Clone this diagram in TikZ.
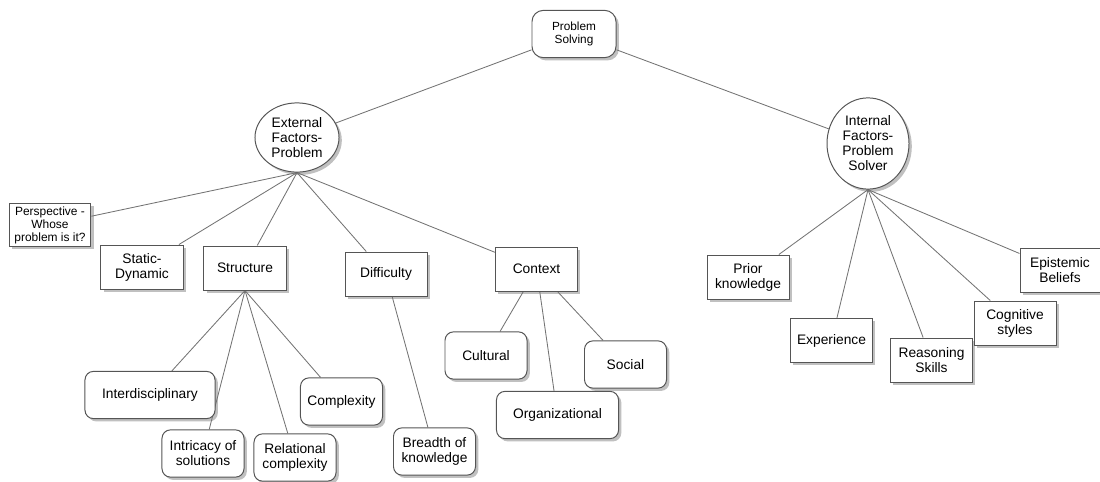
\documentclass[tikz,border=0pt]{standalone}
\usepackage{fontspec}
\setmainfont{Liberation Sans}
\usepackage{tikz}
\usetikzlibrary{shapes.geometric, shadows, backgrounds}
\definecolor{boxgray}{RGB}{85, 85, 85}
\definecolor{linegray}{RGB}{115, 115, 115}

\begin{document}
\begin{tikzpicture}[
  x=0.025cm, y=-0.025cm,
  box/.style={draw=boxgray, fill=white, line width=0.7pt, minimum width=2.05cm, minimum height=1.1cm, align=center, inner sep=1pt, font=\fontsize{9.8}{10.7}\selectfont, drop shadow={shadow xshift=2pt, shadow yshift=-2pt, opacity=0.45, fill=black!55}},
  leaf/.style={box, rounded corners=6pt, minimum height=1.18cm},
  factor/.style={box, ellipse, inner sep=0pt, minimum width=2.1cm},
  link/.style={draw=linegray, line width=0.6pt},
]
  \useasboundingbox (0,0) rectangle (1100,481);

  % Root
  \node[leaf, minimum width=2.1cm, rounded corners=8pt, font=\fontsize{8.4}{9.6}\selectfont] (ps) at (574,34) {Problem\\Solving};

  % Factors
  \node[factor, minimum height=1.73cm] (ext) at (297,137.5) {External\\Factors-\\Problem};
  \node[factor, minimum width=2.05cm, minimum height=2.28cm] (int) at (868,143.5) {Internal\\Factors-\\Problem\\Solver};

  % External factors
  \node[box, minimum width=2.04cm, minimum height=1.08cm, font=\fontsize{8.5}{9.2}\selectfont] (persp) at (50,225) {Perspective -\\Whose\\problem is it?};
  \node[box] (stat) at (142,267) {Static-\\Dynamic};
  \node[box] (struc) at (245,268) {Structure};
  \node[box] (diff) at (386,274) {Difficulty};
  \node[box] (ctx) at (536.5,269) {Context};

  % Structure
  \node[leaf, minimum width=3.25cm] (interd) at (150,395) {Interdisciplinary};
  \node[leaf] (intric) at (203,453.5) {Intricacy of\\solutions};
  \node[leaf] (relat) at (295,457.5) {Relational\\complexity};
  \node[leaf] (compl) at (341.5,401.5) {Complexity};

  % Difficulty
  \node[leaf] (breadth) at (434.5,451.5) {Breadth of\\knowledge};

  % Context
  \node[leaf] (cult) at (486,355.5) {Cultural};
  \node[leaf, minimum width=3.05cm] (org) at (557.5,415) {Organizational};
  \node[leaf] (social) at (625.5,364.5) {Social};

  % Internal factors
  \node[box] (prior) at (748,277) {Prior\\knowledge};
  \node[box] (exper) at (831.5,340.5) {Experience};
  \node[box] (reason) at (931.5,360) {Reasoning\\Skills};
  \node[box] (cogn) at (1015,323) {Cognitive\\styles};
  \node[box, minimum width=2.0cm] (epist) at (1060,270.5) {Epistemic\\Beliefs};

  % Connections
  \begin{scope}[on background layer]
    \draw[link] (ps) -- (ext);
    \draw[link] (ps) -- (int);
    \draw[link] (ext.south) -- (persp);
    \draw[link] (ext.south) -- (stat);
    \draw[link] (ext.south) -- (struc);
    \draw[link] (ext.south) -- (diff);
    \draw[link] (ext.south) -- (ctx);
    \draw[link] (struc.south) -- (interd);
    \draw[link] (struc.south) -- (intric);
    \draw[link] (struc.south) -- (relat);
    \draw[link] (struc.south) -- (compl);
    \draw[link] (diff) -- (breadth);
    \draw[link] (ctx) -- (cult);
    \draw[link] (ctx) -- (org);
    \draw[link] (ctx) -- (social);
    \draw[link] (int.south) -- (prior);
    \draw[link] (int.south) -- (exper);
    \draw[link] (int.south) -- (reason);
    \draw[link] (int.south) -- (cogn);
    \draw[link] (int.south) -- (epist);
  \end{scope}

\end{tikzpicture}
\end{document}
